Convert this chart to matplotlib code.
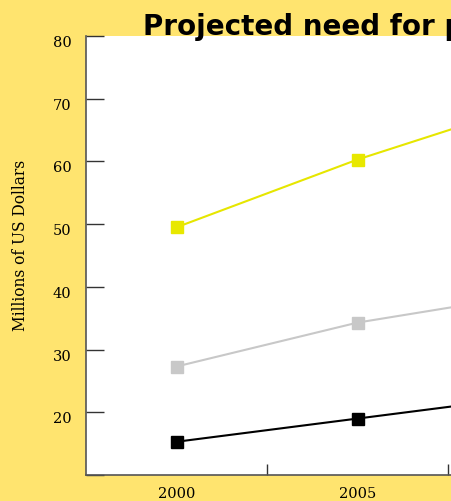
import matplotlib
matplotlib.use('Agg')
import matplotlib.pyplot as plt
from matplotlib.ticker import FixedLocator

years = ['2000', '2005', '2010']
high = [49.5, 60.3, 69.6]
mid = [27.3, 34.3, 39.0]
low = [15.3, 19.0, 22.7]

BG = '#FFE46F'

fig = plt.figure(figsize=(4.51, 5.01), dpi=100, facecolor=BG)
# plot area runs past the right edge of the canvas
ax = fig.add_axes([86 / 451, 26 / 501, 543 / 451, 439 / 501])
ax.set_facecolor('white')

x = list(range(len(years)))
styles = [
    (high, '#E6E600', '#E8E800'),
    (mid, '#C8C8C8', '#C8C8C8'),
    (low, '#000000', '#000000'),
]
for vals, lc, mc in styles:
    ax.plot(x, vals, color=lc, linewidth=1.5, marker='s', markersize=8.8,
            markerfacecolor=mc, markeredgecolor=mc, clip_on=False, zorder=3)

ax.set_xlim(-0.5, len(years) - 0.5)
ax.set_ylim(10, 80)

for side in ['top', 'right']:
    ax.spines[side].set_visible(False)
for side in ['left', 'bottom']:
    ax.spines[side].set_color('#555555')
    ax.spines[side].set_linewidth(1.2)

serif = ['DejaVu Serif']

ax.set_yticks(range(10, 81, 10))
ax.set_yticklabels(['' if v == 10 else str(v) for v in range(10, 81, 10)],
                   family=serif, fontsize=10.5)
for lbl in ax.get_yticklabels():
    lbl.set_va('top')
    lbl.set_x(-0.018)
ax.tick_params(axis='y', direction='in', length=13, width=1, color='#333333')

ax.set_xticks(x)
ax.set_xticklabels(years, family=serif, fontsize=10.5)
ax.tick_params(axis='x', which='major', length=0, pad=9)
ax.xaxis.set_minor_locator(FixedLocator([i + 0.5 for i in x[:-1]]))
ax.tick_params(axis='x', which='minor', direction='in', length=8, width=1, color='#333333')

fig.text(21 / 451, 1 - 245 / 501, 'Millions of US Dollars', rotation=90,
         ha='center', va='center', family=serif, fontsize=11.2)

fig.text(143 / 451, 1 - 35 / 501, 'Projected need for public funding',
         ha='left', va='baseline', fontsize=20, fontweight='bold',
         family='DejaVu Sans')

fig.savefig('out.png', dpi=100, facecolor=BG)
